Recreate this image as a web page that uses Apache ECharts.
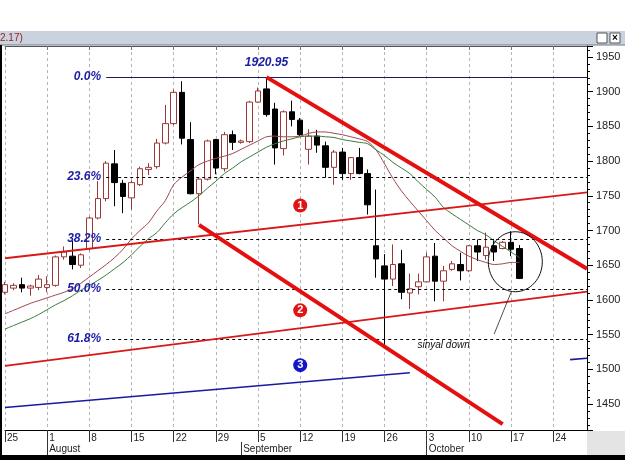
<!DOCTYPE html>
<html>
<head>
<meta charset="utf-8">
<script src="https://cdn.jsdelivr.net/npm/echarts@6/dist/echarts.min.js"></script>
<style>
  html, body { margin: 0; padding: 0; background: #fff; }
  #main { width: 625px; height: 460px; }
</style>
</head>
<body>
<div id="main"></div>
<script>
// trading days shown on the axis (weekdays)
let dates = [
  '2011-07-25', '2011-07-26', '2011-07-27', '2011-07-28', '2011-07-29',
  '2011-08-01', '2011-08-02', '2011-08-03', '2011-08-04', '2011-08-05',
  '2011-08-08', '2011-08-09', '2011-08-10', '2011-08-11', '2011-08-12',
  '2011-08-15', '2011-08-16', '2011-08-17', '2011-08-18', '2011-08-19',
  '2011-08-22', '2011-08-23', '2011-08-24', '2011-08-25', '2011-08-26',
  '2011-08-29', '2011-08-30', '2011-08-31', '2011-09-01', '2011-09-02',
  '2011-09-05', '2011-09-06', '2011-09-07', '2011-09-08', '2011-09-09',
  '2011-09-12', '2011-09-13', '2011-09-14', '2011-09-15', '2011-09-16',
  '2011-09-19', '2011-09-20', '2011-09-21', '2011-09-22', '2011-09-23',
  '2011-09-26', '2011-09-27', '2011-09-28', '2011-09-29', '2011-09-30',
  '2011-10-03', '2011-10-04', '2011-10-05', '2011-10-06', '2011-10-07',
  '2011-10-10', '2011-10-11', '2011-10-12', '2011-10-13', '2011-10-14',
  '2011-10-17', '2011-10-18', '2011-10-19', '2011-10-20', '2011-10-21',
  '2011-10-24', '2011-10-25', '2011-10-26', '2011-10-27', '2011-10-28'
]

// [open, close, low, high]
let candleData = [
  [1611, 1622, 1608, 1626], [1617, 1621, 1614, 1624], [1622, 1617, 1611, 1632], [1617, 1620, 1606, 1622], [1618, 1630, 1614, 1636],
  [1618, 1622, 1611, 1634], [1621, 1662, 1619, 1664], [1662, 1669, 1658, 1677], [1663, 1651, 1644, 1685], [1650, 1665, 1646, 1667],
  [1674, 1718, 1671, 1720], [1718, 1746, 1716, 1771], [1746, 1797, 1742, 1800], [1796, 1769, 1735, 1816], [1768, 1749, 1725, 1773],
  [1747, 1769, 1730, 1772], [1766, 1789, 1764, 1792], [1788, 1791, 1780, 1797], [1792, 1826, 1789, 1832], [1826, 1854, 1824, 1881],
  [1854, 1899, 1852, 1903], [1899, 1833, 1824, 1915], [1831, 1753, 1752, 1856], [1753, 1774, 1709, 1776], [1774, 1829, 1772, 1831],
  [1831, 1790, 1781, 1832], [1789, 1838, 1785, 1842], [1838, 1827, 1816, 1844], [1827, 1829, 1825, 1831], [1828, 1885, 1826, 1887],
  [1885, 1901, 1884, 1906], [1904, 1867, 1864, 1921], [1875, 1819, 1795, 1884], [1818, 1871, 1808, 1873], [1871, 1860, 1850, 1887],
  [1859, 1838, 1836, 1862], [1817, 1836, 1795, 1846], [1836, 1823, 1812, 1845], [1822, 1791, 1776, 1828], [1791, 1813, 1766, 1816],
  [1813, 1782, 1773, 1819], [1782, 1805, 1773, 1806], [1805, 1782, 1781, 1819], [1782, 1737, 1723, 1788], [1678, 1659, 1632, 1759],
  [1649, 1630, 1531, 1666], [1630, 1651, 1620, 1680], [1652, 1611, 1601, 1672], [1610, 1616, 1587, 1638], [1619, 1626, 1608, 1638],
  [1626, 1662, 1626, 1668], [1663, 1627, 1598, 1682], [1627, 1642, 1598, 1649], [1644, 1652, 1642, 1656], [1651, 1642, 1628, 1668],
  [1642, 1678, 1640, 1679], [1678, 1669, 1656, 1687], [1664, 1676, 1658, 1697], [1678, 1669, 1656, 1688], [1674, 1683, 1673, 1685],
  [1683, 1673, 1663, 1699], [1674, 1631, 1630, 1679]
]

// moving averages
let maFast = [
  1580, 1585, 1590, 1595, 1599, 1603, 1607, 1611, 1616, 1624,
  1633, 1642, 1651, 1661, 1673, 1688, 1700, 1711, 1728, 1743,
  1766, 1777, 1786, 1795, 1800, 1804, 1807, 1811, 1817, 1823,
  1829, 1835, 1836, 1835, 1835, 1836, 1840, 1842, 1842, 1840,
  1838, 1835, 1832, 1828, 1816, 1796, 1775, 1757, 1742, 1728,
  1714, 1700, 1689, 1678, 1670, 1663, 1658, 1654, 1651, 1652,
  1654, 1654
]
let maSlow = [
  1558, 1563, 1568, 1573, 1579, 1586, 1593, 1599, 1606, 1614,
  1621, 1628, 1636, 1645, 1654, 1665, 1677, 1688, 1697, 1711,
  1724, 1733, 1741, 1750, 1761, 1771, 1782, 1790, 1799, 1806,
  1813, 1820, 1825, 1829, 1832, 1835, 1836, 1836, 1835, 1834,
  1831, 1829, 1827, 1825, 1816, 1808, 1798, 1790, 1782, 1770,
  1759, 1748, 1733, 1724, 1716, 1708, 1700, 1694, 1685, 1677,
  1669, 1661
]

// fibonacci retracement levels
let fibLabels = ['0.0%', '23.6%', '38.2%', '50.0%', '61.8%']
let fibPrices = [1920.95, 1777, 1688, 1616, 1544]
let fibStart = '2011-08-10'
let fibEnd = '2011-10-28'

// trend lines, [date, price] end points
let downTop = [['2011-09-06', 1921], ['2011-10-28', 1645]]
let downBottom = [['2011-08-25', 1708], ['2011-10-14', 1421]]
let channelTop = [['2011-07-25', 1660], ['2011-10-28', 1755]]
let channelBottom = [['2011-07-25', 1505], ['2011-10-28', 1612]]
let blueLine = [['2011-07-25', 1445], ['2011-09-29', 1495]]
let blueStub = [['2011-10-26', 1514], ['2011-10-28', 1516]]
let pointer = [['2011-10-17', 1611], ['2011-10-13', 1551]]

let markerNames = ['1', '2', '3']
let markerPoints = [['2011-09-12', 1736], ['2011-09-12', 1585], ['2011-09-12', 1506]]
let markerColors = ['#e01414', '#e01414', '#1414c8']

let circleDates = ['2011-10-17', '2011-10-18']
let circlePrice = 1655

let monthNames = { '08': 'August', '09': 'September', '10': 'October' }

let font = 'Arial, "Liberation Sans", sans-serif'

function isMonday (i) {
  return new Date(dates[i]).getUTCDay() === 1
}
function isMonthStart (i) {
  return i > 0 && dates[i].slice(5, 7) !== dates[i - 1].slice(5, 7)
}

function trend (data, color, width) {
  return {
    type: 'line',
    data: data,
    symbol: 'none',
    silent: true,
    z: 5,
    lineStyle: { color: color, width: width }
  }
}

let fibLines = fibPrices.map((p, i) => {
  return [
    {
      coord: [fibStart, p],
      lineStyle: i === 0 ? { color: '#1b1b5e', width: 1, type: 'solid' } : { color: '#000', width: 1, type: [3, 3] },
      label: {
        show: true,
        position: 'start',
        distance: 5,
        formatter: fibLabels[i],
        color: '#1c1ca6',
        fontSize: 12,
        fontStyle: 'italic',
        fontWeight: 'bold',
        fontFamily: font
      }
    },
    { coord: [fibEnd, p] }
  ]
})

let frame = [
  { type: 'rect', shape: { x: 0, y: 31, width: 625, height: 14 }, style: { fill: '#c9d2de' } },
  { type: 'line', shape: { x1: 0, y1: 45, x2: 625, y2: 45 }, style: { stroke: '#6e7a8c', lineWidth: 1 } },
  { type: 'text', x: 0, y: 33, style: { text: '2.17)', fill: '#9a1b1b', font: '10px Arial' } },
  { type: 'rect', shape: { x: 597, y: 33, width: 10, height: 10 }, style: { fill: '#fff', stroke: '#555', lineWidth: 1 } },
  { type: 'rect', shape: { x: 610, y: 33, width: 10, height: 10 }, style: { fill: '#fff', stroke: '#555', lineWidth: 1 } },
  { type: 'text', x: 612, y: 33, style: { text: '×', fill: '#000', font: 'bold 10px Arial' } },
  { type: 'rect', shape: { x: 0, y: 45, width: 2, height: 415 }, style: { fill: '#000' } },
  { type: 'rect', shape: { x: 587, y: 431, width: 38, height: 24 }, style: { fill: '#e4e4e4' } },
  { type: 'rect', shape: { x: 0, y: 455, width: 625, height: 5 }, style: { fill: '#000' } }
]

let myChart = echarts.init(document.getElementById('main'))
let option = {
  animation: false,
  backgroundColor: '#fff',
  grid: { left: 5, right: 38, top: 46, bottom: 30 },
  xAxis: [
    {
      type: 'category',
      data: dates,
      boundaryGap: false,
      axisLine: { lineStyle: { color: '#000', width: 1 } },
      axisTick: { interval: isMonday, length: 12, lineStyle: { color: '#333' } },
      axisLabel: {
        interval: isMonday,
        formatter: v => String(Number(v.slice(8))),
        align: 'left',
        margin: 3,
        padding: [0, 0, 0, 2],
        color: '#222',
        fontSize: 10,
        fontFamily: font
      },
      splitLine: { show: true, interval: isMonday, lineStyle: { color: '#b4b4b4', type: [3, 3] } }
    },
    {
      type: 'category',
      data: dates,
      boundaryGap: false,
      position: 'bottom',
      offset: 12,
      axisLine: { show: false },
      axisTick: { interval: isMonthStart, length: 13, lineStyle: { color: '#333' } },
      axisLabel: {
        interval: isMonthStart,
        formatter: v => monthNames[v.slice(5, 7)] || '',
        align: 'left',
        margin: 2,
        padding: [0, 0, 0, 2],
        color: '#222',
        fontSize: 10,
        fontFamily: font
      },
      splitLine: { show: false }
    },
    {
      type: 'category',
      data: dates,
      boundaryGap: false,
      position: 'top',
      axisLine: { lineStyle: { color: '#555' } },
      axisTick: { inside: true, interval: isMonday, length: 4, lineStyle: { color: '#777' } },
      axisLabel: { show: false },
      splitLine: { show: false }
    }
  ],
  yAxis: {
    type: 'value',
    position: 'right',
    min: 1412.6,
    max: 1965.8,
    splitNumber: 11,
    axisLine: { show: true, lineStyle: { color: '#000' } },
    axisTick: { show: true, length: 6, lineStyle: { color: '#000' } },
    minorTick: { show: true, splitNumber: 5, length: 3, lineStyle: { color: '#000' } },
    axisLabel: {
      showMinLabel: false,
      showMaxLabel: false,
      formatter: v => String(v),
      color: '#222',
      fontSize: 11,
      margin: 9,
      fontFamily: font
    },
    splitLine: { show: false }
  },
  graphic: frame,
  series: [
    {
      type: 'candlestick',
      data: candleData,
      barWidth: 6,
      itemStyle: {
        color: '#fff',
        color0: '#000',
        borderColor: '#983838',
        borderColor0: '#000',
        borderWidth: 1
      },
      markLine: {
        silent: true,
        symbol: 'none',
        animation: false,
        data: fibLines
      }
    },
    {
      type: 'line',
      data: maFast,
      symbol: 'none',
      smooth: 0.3,
      silent: true,
      lineStyle: { color: '#a2474f', width: 1 }
    },
    {
      type: 'line',
      data: maSlow,
      symbol: 'none',
      smooth: 0.3,
      silent: true,
      lineStyle: { color: '#3b7a3b', width: 1 }
    },
    trend(channelTop, '#d81818', 1.8),
    trend(channelBottom, '#d81818', 1.8),
    trend(blueLine, '#1a1aa0', 1.6),
    trend(blueStub, '#1a1aa0', 1.6),
    trend(downTop, '#e41010', 4),
    trend(downBottom, '#e41010', 4),
    trend(pointer, '#222', 0.8),
    {
      type: 'scatter',
      silent: true,
      z: 6,
      symbolSize: 14,
      data: markerPoints.map((p, i) => ({ name: markerNames[i], value: p, itemStyle: { color: markerColors[i], opacity: 1 } })),
      label: {
        show: true,
        position: 'inside',
        formatter: '{b}',
        color: '#fff',
        opacity: 1,
        fontWeight: 'bold',
        fontSize: 11,
        fontFamily: font
      }
    },
    {
      type: 'scatter',
      silent: true,
      z: 6,
      symbolSize: 1,
      itemStyle: { color: 'rgba(0,0,0,0)', opacity: 1 },
      data: [
        { name: '1920.95', value: ['2011-09-06', 1942], label: { fontSize: 12, fontWeight: 'bold', color: '#1c1ca6' } },
        { name: 'sinyal down', value: ['2011-10-05', 1535], label: { fontSize: 10, color: '#111' } }
      ],
      label: {
        show: true,
        position: 'inside',
        formatter: '{b}',
        opacity: 1,
        fontStyle: 'italic',
        fontFamily: font
      }
    }
  ]
}
myChart.setOption(option)

// ring around the last candles
let a = myChart.convertToPixel({ gridIndex: 0 }, [circleDates[0], circlePrice])
let b = myChart.convertToPixel({ gridIndex: 0 }, [circleDates[1], circlePrice])
option.graphic = frame.concat([{
  type: 'ellipse',
  shape: { cx: (a[0] + b[0]) / 2, cy: a[1], rx: 27, ry: 30 },
  style: { fill: 'none', stroke: '#111', lineWidth: 1 },
  z: 100
}])
myChart.setOption(option, true)
</script>
</body>
</html>
